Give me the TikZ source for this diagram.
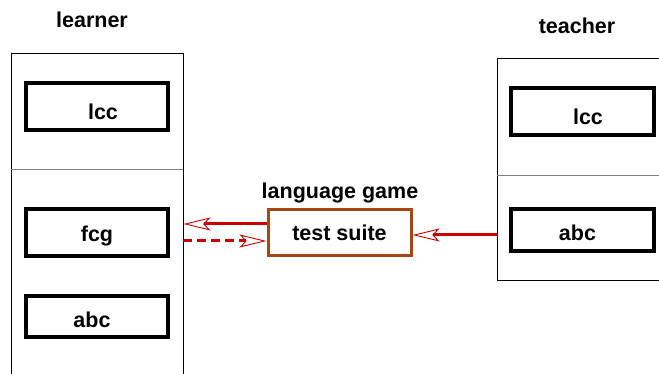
\documentclass[tikz,border=0pt]{standalone}
\usepackage{fontspec}
\setmainfont{Liberation Sans}
\usetikzlibrary{arrows.meta,calc}
\definecolor{arrred}{RGB}{204,0,0}
\definecolor{tsbrown}{RGB}{165,72,20}
\definecolor{divgray}{RGB}{128,128,128}
\begin{document}
\begin{tikzpicture}[x=1pt,y=-1pt,
  lbl/.style={font=\fontsize{21.5}{25}\selectfont\bfseries, inner sep=0pt},
  outerbox/.style={draw=black, line width=0.9pt, inner sep=0pt},
  compbox/.style={draw=black, line width=3.5pt, inner sep=0pt},
  tsbox/.style={draw=tsbrown, line width=3pt, inner sep=0pt, minimum width=143pt, minimum height=46pt, font=\fontsize{21.5}{25}\selectfont\bfseries},
  divider/.style={draw=divgray, line width=0.9pt},
  redline/.style={draw=arrred, line width=3pt, -{Stealth[open, length=27pt, width=13pt, inset=6pt, line width=0.9pt]}},
]
\useasboundingbox (0,0) rectangle (659,374);

% outer containers
\node[outerbox, minimum width=171.5pt, minimum height=367pt] (learner) at (97.25,236.5) {};
\node[outerbox, minimum width=223pt, minimum height=222.5pt] (teacher) at (608.5,169.25) {};
\draw[divider] (learner.west |- 0,169) -- (learner.east |- 0,169);
\draw[divider] (teacher.west |- 0,175) -- (teacher.east |- 0,175);

% titles
\node[lbl] (tlearner) at (92,20) {learner};
\node[lbl] (tteacher) at (577,26) {teacher};
\node[lbl] (tgame) at (340,193) {language game};

% learner components
\node[compbox, minimum width=142pt, minimum height=47pt,
  label={[lbl, xshift=6pt, yshift=-5pt]center:lcc}] (llcc) at (97,106.5) {};
\node[compbox, minimum width=142pt, minimum height=47pt,
  label={[lbl, yshift=-3pt]center:fcg}] (lfcg) at (97,232.5) {};
\node[compbox, minimum width=142pt, minimum height=41pt,
  label={[lbl, xshift=-5pt, yshift=-3pt]center:abc}] (labc) at (97,316.5) {};

% teacher components
\node[compbox, minimum width=143pt, minimum height=47pt,
  label={[lbl, xshift=5.5pt, yshift=-5pt]center:lcc}] (tlcc) at (582.5,111.5) {};
\node[compbox, minimum width=143pt, minimum height=42pt,
  label={[lbl, xshift=-5pt, yshift=-3pt]center:abc}] (tabc) at (582.5,230) {};

% test suite
\node[tsbox] (ts) at (339.5,233) {test suite};

% connectors
\draw[redline] ($(ts.west)+(0,-9)$) -- ($(learner.east |- ts.west)+(0,-9)$);
\draw[redline, dash pattern=on 9pt off 5pt] ($(learner.east |- ts.west)+(0,8)$) -- ($(ts.west)+(0,8)$);
\draw[redline] ($(teacher.west |- ts.east)+(0,2)$) -- ($(ts.east)+(0,2)$);
\end{tikzpicture}
\end{document}
